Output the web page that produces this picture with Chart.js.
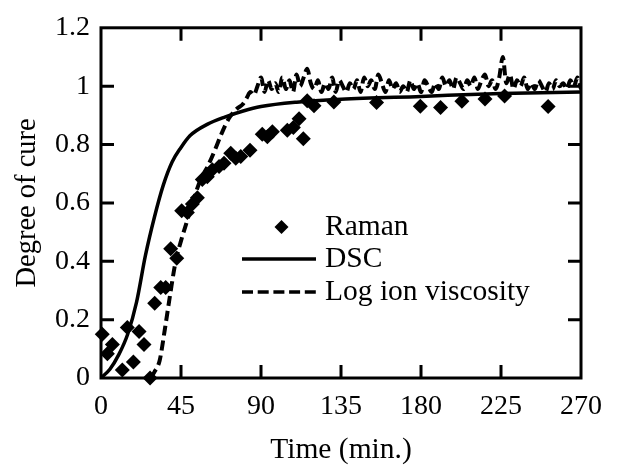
<!DOCTYPE html>
<html>
<head>
<meta charset="utf-8">
<script src="https://cdn.jsdelivr.net/npm/chart.js@4/dist/chart.umd.min.js"></script>
<style>
  html, body { margin: 0; padding: 0; background: #fff; }
  #wrap { width: 620px; height: 470px; }
</style>
</head>
<body>
<div id="wrap"><canvas id="cure" width="620" height="470"></canvas></div>
<script>
// ── data ─────────────────────────────────────────────────
const xTicks = [0, 45, 90, 135, 180, 225, 270];
const yTicks = [0, 0.2, 0.4, 0.6, 0.8, 1, 1.2];

const ramanTime = [0.7, 3.6, 6.4, 12, 14.8, 18.2, 21.4, 24.2, 27.6, 30.2, 33.6, 36.4, 39.2, 42.6,
  45.4, 48.6, 51.4, 54.2, 57, 59.8, 62.6, 66.4, 69.2, 73, 75.8, 78.6, 83.8, 90.7, 93.6, 96.4,
  104.8, 108.2, 111.4, 113.8, 116, 119.8, 131, 155, 179.6, 191, 203, 216, 227, 251.5];
const ramanCure = [0.15, 0.083, 0.115, 0.027, 0.173, 0.055, 0.159, 0.115, 0, 0.256, 0.31, 0.31, 0.443, 0.41,
  0.573, 0.567, 0.596, 0.618, 0.68, 0.69, 0.714, 0.725, 0.736, 0.77, 0.753, 0.759, 0.78, 0.835, 0.827, 0.844,
  0.849, 0.858, 0.888, 0.82, 0.95, 0.933, 0.946, 0.944, 0.931, 0.927, 0.948, 0.956, 0.966, 0.93];

const dscTime = [0, 5, 10, 15, 20, 25, 30, 35, 40, 45, 50, 60, 70, 80, 90, 110, 135, 180, 225, 270];
const dscCure = [0, 0.03, 0.08, 0.15, 0.26, 0.42, 0.55, 0.66, 0.74, 0.79, 0.83, 0.87, 0.895, 0.915,
  0.93, 0.945, 0.955, 0.965, 0.975, 0.98];

const ionTime = [28, 30, 33, 36, 39, 42, 45, 48, 52, 56, 60, 64, 68, 72, 76, 80,
  82, 84, 86, 88, 90, 92, 94, 96, 98, 100, 102, 104, 106, 108, 110, 112, 114, 116, 118, 120,
  122, 124, 126, 128, 130, 132, 134, 136, 138, 140, 142, 144, 146, 148, 150, 152, 154, 156, 158, 160,
  162, 164, 166, 168, 170, 172, 174, 176, 178, 180, 182, 184, 186, 188, 190, 192, 194, 196, 198, 200,
  202, 204, 206, 208, 210, 212, 214, 216, 218, 220, 222, 224, 226, 228, 230, 232, 234, 236, 238, 240,
  242, 244, 246, 248, 250, 252, 254, 256, 258, 260, 262, 264, 266, 268, 270];
const ionCure = [0, 0.02, 0.06, 0.17, 0.29, 0.40, 0.47, 0.53, 0.61, 0.68, 0.725, 0.78, 0.84, 0.89, 0.92, 0.94,
  0.96, 0.98, 0.97, 1.00, 1.03, 0.98, 1.02, 0.99, 1.01, 0.98, 1.03, 0.99, 1.02, 0.98, 1.04, 1.00, 1.03, 1.06, 1.01, 0.99,
  1.02, 0.98, 1.01, 0.99, 1.03, 0.98, 1.02, 1.00, 0.98, 1.01, 0.99, 1.02, 0.98, 1.03, 1.00, 1.02, 0.99, 1.04, 1.01, 0.98,
  1.02, 0.99, 1.01, 0.98, 1.00, 0.98, 1.02, 0.99, 1.01, 0.98, 1.02, 1.00, 0.98, 1.01, 0.99, 1.03, 1.00, 1.02, 0.99, 1.03,
  1.01, 0.99, 1.02, 1.00, 1.03, 0.99, 1.02, 1.04, 1.00, 1.02, 0.99, 1.03, 1.10, 1.01, 1.04, 0.99, 1.02, 1.00, 1.03, 0.99,
  1.01, 0.99, 1.02, 1.00, 0.98, 1.01, 0.99, 1.02, 1.00, 1.01, 0.99, 1.02, 1.00, 1.03, 0.99];

const FONT = '"Liberation Serif", "Times New Roman", Times, serif';
const pts = (xs, ys) => xs.map((x, i) => ({ x, y: ys[i] }));

// ── frame, inward ticks and legend ───────────────────────
const framePlugin = {
  id: 'frame',
  afterDraw(chart) {
    const { ctx, chartArea: a, scales } = chart;
    const tl = 13;
    ctx.save();
    ctx.strokeStyle = '#000';
    ctx.lineWidth = 3;
    ctx.beginPath();
    xTicks.slice(1, -1).forEach(v => {
      const px = scales.x.getPixelForValue(v);
      ctx.moveTo(px, a.bottom); ctx.lineTo(px, a.bottom - tl);
      ctx.moveTo(px, a.top); ctx.lineTo(px, a.top + tl);
    });
    yTicks.slice(1, -1).forEach(v => {
      const py = scales.y.getPixelForValue(v);
      ctx.moveTo(a.left, py); ctx.lineTo(a.left + tl, py);
      ctx.moveTo(a.right, py); ctx.lineTo(a.right - tl, py);
    });
    ctx.stroke();
    ctx.strokeRect(a.left, a.top, a.right - a.left, a.bottom - a.top);

    // legend
    ctx.fillStyle = '#000';
    ctx.font = '29.5px ' + FONT;
    ctx.textBaseline = 'middle';
    ctx.lineWidth = 3.5;
    const tx = 325, x0 = 242, x1 = 316;
    const rows = [227, 259, 292];
    ctx.beginPath();
    ctx.moveTo(281.5, rows[0] - 7); ctx.lineTo(288.5, rows[0]);
    ctx.lineTo(281.5, rows[0] + 7); ctx.lineTo(274.5, rows[0]);
    ctx.closePath(); ctx.fill();
    ctx.fillText('Raman', tx, rows[0]);
    ctx.beginPath(); ctx.moveTo(x0, rows[1]); ctx.lineTo(x1, rows[1]); ctx.stroke();
    ctx.fillText('DSC', tx, rows[1]);
    ctx.setLineDash([11, 4.7]);
    ctx.beginPath(); ctx.moveTo(x0, rows[2]); ctx.lineTo(x1, rows[2]); ctx.stroke();
    ctx.setLineDash([]);
    ctx.fillText('Log ion viscosity', tx, rows[2]);
    ctx.restore();
  }
};

new Chart(document.getElementById('cure'), {
  type: 'scatter',
  data: {
    datasets: [
      {
        label: 'Raman',
        data: pts(ramanTime, ramanCure),
        pointStyle: 'rectRot',
        pointRadius: 7.5,
        backgroundColor: '#000',
        borderColor: '#000',
        borderWidth: 0,
        clip: false
      },
      {
        label: 'DSC',
        data: pts(dscTime, dscCure),
        showLine: true,
        pointRadius: 0,
        borderColor: '#000',
        borderWidth: 3.5,
        cubicInterpolationMode: 'monotone'
      },
      {
        label: 'Log ion viscosity',
        data: pts(ionTime, ionCure),
        showLine: true,
        pointRadius: 0,
        borderColor: '#000',
        borderWidth: 4,
        borderDash: [10, 5],
        cubicInterpolationMode: 'monotone'
      }
    ]
  },
  options: {
    responsive: false,
    animation: false,
    events: [],
    layout: { padding: { top: 23, right: 39, left: 0, bottom: 0 } },
    scales: {
      x: {
        type: 'linear',
        min: 0,
        max: 270,
        afterFit: (s) => { s.height = 92; },
        afterBuildTicks: (s) => { s.ticks = xTicks.map(v => ({ value: v })); },
        grid: { display: false, drawTicks: false },
        border: { display: false },
        ticks: { color: '#000', padding: 12, font: { family: FONT, size: 28 }, callback: (v) => String(v) },
        title: {
          display: true,
          text: 'Time (min.)',
          color: '#000',
          padding: { top: 0, bottom: 2 },
          font: { family: FONT, size: 29.5 }
        }
      },
      y: {
        type: 'linear',
        min: 0,
        max: 1.2,
        afterFit: (s) => { s.width = 101; },
        afterBuildTicks: (s) => { s.ticks = yTicks.map(v => ({ value: v })); },
        grid: { display: false, drawTicks: false },
        border: { display: false },
        ticks: { color: '#000', padding: 11, font: { family: FONT, size: 28 }, callback: (v) => String(v) },
        title: {
          display: true,
          text: 'Degree of cure',
          color: '#000',
          padding: { top: 10, bottom: 0 },
          font: { family: FONT, size: 28.5 }
        }
      }
    },
    plugins: {
      legend: { display: false },
      tooltip: { enabled: false }
    }
  },
  plugins: [framePlugin]
});
</script>
</body>
</html>
